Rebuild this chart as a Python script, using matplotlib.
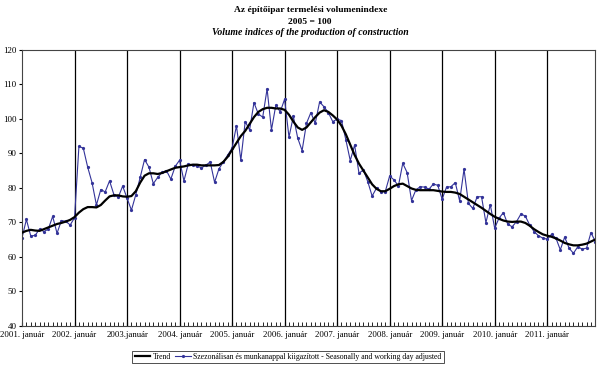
import matplotlib.pyplot as plt
import numpy as np

plt.rcParams['font.family'] = ['Liberation Serif', 'DejaVu Serif']

# monthly values, 2001. január .. 2011. december
adjusted = [
    65.5, 70.8, 66.0, 66.2, 68.0, 67.3, 68.0, 71.7, 66.8, 70.5, 70.3, 69.2,
    71.3, 92.0, 91.5, 86.0, 81.5, 75.0, 79.5, 78.8, 82.0, 78.0, 77.3, 80.5,
    77.0, 73.5, 78.0, 83.0, 88.2, 86.0, 81.2, 83.0, 84.5, 85.0, 82.5, 86.2,
    88.0, 82.0, 87.0, 86.5, 86.3, 85.8, 86.5, 87.5, 81.6, 85.5, 87.5, 89.5,
    91.5, 98.0, 88.0, 99.2, 96.8, 104.7, 101.4, 100.5, 108.7, 96.8, 104.0, 102.0,
    105.7, 94.7, 100.7, 94.4, 90.8, 98.7, 101.8, 98.7, 104.9, 103.5, 101.8, 99.2,
    99.9, 99.5, 93.9, 87.9, 92.4, 84.2, 85.2, 81.8, 77.6, 79.9, 78.9, 78.9,
    83.4, 82.3, 80.5, 87.1, 84.4, 76.3, 79.4, 80.3, 80.2, 79.6, 81.1, 80.7,
    76.7, 80.2, 80.3, 81.5, 76.2, 85.4, 75.5, 74.0, 77.4, 77.4, 69.9, 75.1,
    68.3, 71.2, 72.8, 69.4, 68.7, 70.2, 72.4, 71.8, 69.2, 67.3, 66.1, 65.4,
    65.1, 66.5, 65.4, 62.0, 65.7, 62.5, 61.0, 62.9, 62.2, 62.5, 67.0, 64.4,
]
trend = [
    67.0, 67.5, 67.8, 67.6, 67.5, 68.0, 68.5, 69.0, 69.5, 69.8, 70.2, 70.7,
    71.5, 72.8, 73.8, 74.4, 74.4, 74.3, 75.0, 76.3, 77.5, 77.8, 77.8, 77.5,
    77.4, 77.6, 79.0, 81.5, 83.5, 84.2, 84.2, 84.0, 84.3, 84.8, 85.3, 85.8,
    86.0, 86.2, 86.5, 86.7, 86.7, 86.5, 86.5, 86.5, 86.5, 86.6, 87.5, 89.0,
    91.0, 93.0, 95.0, 96.5, 98.5, 100.5, 102.0, 102.8, 103.2, 103.2, 103.0, 103.0,
    102.6, 101.2, 99.2, 97.5, 96.8, 97.5, 99.0, 100.5, 101.8, 102.5, 102.0, 101.0,
    99.8, 98.0, 95.5, 92.5, 89.5, 87.0, 85.0, 83.0, 81.0, 79.7, 79.0, 79.0,
    79.7, 80.5, 81.0, 81.2, 80.5, 79.8, 79.4, 79.3, 79.3, 79.3, 79.3, 79.1,
    78.9, 78.8, 78.8, 78.6, 78.2, 77.4, 76.6, 75.8, 75.0, 74.2, 73.3, 72.4,
    71.6, 71.0, 70.5, 70.2, 70.1, 70.2, 70.2, 69.8, 69.0, 68.0, 67.2, 66.5,
    66.1, 65.8, 65.3, 64.7, 64.0, 63.6, 63.3, 63.3, 63.5, 63.8, 64.4, 65.0,
]
years = [str(y) + ('.január' if y == 2003 else '. január') for y in range(2001, 2012)]

n = len(adjusted)
x = np.arange(n)

fig = plt.figure(figsize=(6, 3.75), dpi=100)
ax = fig.add_axes([0.0367, 0.1315, 0.9555, 0.7355])

for k in range(1, len(years)):
    ax.axvline(12 * k, color='black', lw=0.9, zorder=1)

ax.plot(x, trend, color='black', lw=1.6, zorder=3, label='Trend')
ax.plot(x, adjusted, color='#333399', lw=0.8, marker='o', ms=1.3, zorder=2,
        label='Szezonálisan és munkanappal kiigazított - Seasonally and working day adjusted')

ax.set_xlim(0, n - 1)
ax.set_ylim(40, 120)
ax.set_yticks(range(40, 121, 10))
ax.tick_params(axis='y', labelsize=6.5, length=2, pad=2)
ax.set_xticks(np.arange(0, n, 12))
ax.set_xticks(np.arange(0, n), minor=True)
ax.set_xticklabels(years, fontsize=6.3)
ax.tick_params(axis='x', which='both', direction='in', length=3, pad=4)
for s in ax.spines.values():
    s.set_color('#444444')
    s.set_linewidth(0.8)

fig.text(0.517, 0.967, 'Az építőipar termelési volumenindexe', ha='center', fontsize=6.8, fontweight='bold')
fig.text(0.517, 0.937, '2005 = 100', ha='center', fontsize=6.8, fontweight='bold')
fig.text(0.517, 0.907, 'Volume indices of the production of construction', ha='center',
         fontsize=7, fontweight='bold', style='italic')

leg = fig.legend(loc='center', bbox_to_anchor=(0.48, 0.048), ncol=2, fontsize=5.6,
                 frameon=True, fancybox=False, edgecolor='black', handlelength=2.0,
                 columnspacing=0.6, handletextpad=0.3, borderpad=0.3)
leg.get_frame().set_linewidth(0.6)

fig.savefig('out.png', dpi=100)
